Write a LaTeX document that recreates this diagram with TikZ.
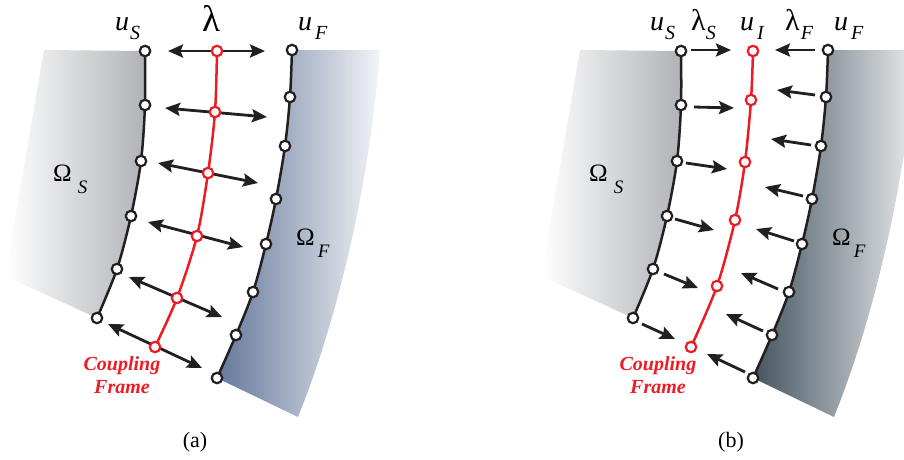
\documentclass[tikz,border=0pt]{standalone}
\usepackage{fontspec}
\setmainfont{Liberation Serif}
\usetikzlibrary{arrows.meta}
\definecolor{cfred}{RGB}{237,28,36}
\definecolor{sgray}{RGB}{176,178,182}
\definecolor{fblueA}{RGB}{100,120,154}
\definecolor{fblueB}{RGB}{68,84,96}
\definecolor{ink}{RGB}{35,31,32}
\newcommand{\sub}[2][0pt]{\kern#1\raisebox{-9pt}{\fontsize{20}{20}\selectfont\itshape #2}}
\newcommand{\osub}[2][4pt]{\kern#1\raisebox{-12pt}{\fontsize{19}{19}\selectfont\itshape #2}}
\begin{document}
\begin{tikzpicture}[x=1pt,y=-1pt,
 bnd/.style={line width=2.5pt, draw=ink},
 cfl/.style={line width=2.5pt, draw=cfred},
 bdot/.style={circle, draw=ink, fill=white, line width=2.2pt, inner sep=0pt, minimum size=10.5pt},
 rdot/.style={bdot, draw=cfred},
 tip/.tip={Stealth[length=15pt,width=13pt,inset=2.5pt]},
 dbl/.style={line width=2.8pt, draw=ink, {tip}-{tip}},
 sarr/.style={line width=2.8pt, draw=ink, -{tip}},
 lbl/.style={inner sep=0pt, anchor=base west, font=\fontsize{28}{28}\selectfont},
 lam/.style={inner sep=0pt, anchor=base west, font=\fontsize{37}{37}\selectfont},
 om/.style={inner sep=0pt, anchor=base west, font=\fontsize{25}{25}\selectfont},
 cf/.style={inner sep=0pt, anchor=base, text=cfred, font=\fontsize{20}{20}\selectfont\bfseries\itshape},
 captxt/.style={inner sep=0pt, anchor=base, font=\fontsize{22}{22}\selectfont},
]
\useasboundingbox (0,0) rectangle (904,459);

% ---------------- panel (a) ----------------
\coordinate (a1) at (145,51);  \coordinate (a2) at (145,105); \coordinate (a3) at (141,161);
\coordinate (a4) at (131,216); \coordinate (a5) at (117,269); \coordinate (a6) at (97,318);
\coordinate (af1) at (292,50); \coordinate (af2) at (290,97); \coordinate (af3) at (285,146);
\coordinate (af4) at (276,199); \coordinate (af5) at (266,244); \coordinate (af6) at (253,292);
\coordinate (af7) at (236,335); \coordinate (af8) at (217,378);
\coordinate (ar1) at (217,51);  \coordinate (ar2) at (215,112); \coordinate (ar3) at (208,173);
\coordinate (ar4) at (197,236); \coordinate (ar5) at (177,298); \coordinate (ar6) at (155,347);

\shade[left color=white, right color=sgray]
  (44,50) -- plot[smooth, tension=0.5] coordinates {(a1) (a2) (a3) (a4) (a5) (a6)} -- (5,276) -- cycle;
\shade[left color=fblueA, right color=white!92!fblueA]
  (380,50) .. controls (372,160) and (345,300) .. (298,417)
  -- plot[smooth, tension=0.5] coordinates {(af8) (af7) (af6) (af5) (af4) (af3) (af2) (af1)} -- cycle;

\draw[bnd] plot[smooth, tension=0.5] coordinates {(a1) (a2) (a3) (a4) (a5) (a6)};
\draw[bnd] plot[smooth, tension=0.5] coordinates {(af1) (af2) (af3) (af4) (af5) (af6) (af7) (af8)};
\draw[cfl] plot[smooth, tension=0.5] coordinates {(ar1) (ar2) (ar3) (ar4) (ar5) (ar6)};

\coordinate (da1) at (168,51);  \coordinate (db1) at (265,51);
\coordinate (da2) at (165,108); \coordinate (db2) at (267,117);
\coordinate (da3) at (158,163); \coordinate (db3) at (258,183);
\coordinate (da4) at (148,222); \coordinate (db4) at (243,247);
\coordinate (da5) at (129,277); \coordinate (db5) at (222,317);
\coordinate (da6) at (108,324); \coordinate (db6) at (202,368);
\foreach \i in {1,...,6} {\draw[dbl] (da\i) -- (db\i);}

\foreach \i in {1,...,6} {\node[bdot] (na\i) at (a\i) {};}
\foreach \i in {1,...,8} {\node[bdot] (naf\i) at (af\i) {};}
\foreach \i in {1,...,6} {\node[rdot] (nar\i) at (ar\i) {};}

\node[lbl] (lus) at (115,30) {\textit{u}\sub[1pt]{S}};
\node[lam] (llam) at (202,31) {λ};
\node[lbl] (luf) at (298,30) {\textit{u}\sub[3pt]{F}};
\node[om] (los) at (53,181) {Ω\osub[6pt]{S}};
\node[om] (lof) at (296,245) {Ω\osub[3pt]{F}};
\node[cf] (cfa1) at (122,370) {Coupling};
\node[cf] (cfa2) at (122,393) {Frame};
\node[captxt] (capa) at (195,447) {(a)};

% ---------------- panel (b) ----------------
\coordinate (b1) at (681,51);  \coordinate (b2) at (681,105); \coordinate (b3) at (677,161);
\coordinate (b4) at (667,216); \coordinate (b5) at (653,269); \coordinate (b6) at (633,318);
\coordinate (bf1) at (828,50); \coordinate (bf2) at (826,97); \coordinate (bf3) at (821,146);
\coordinate (bf4) at (812,199); \coordinate (bf5) at (802,244); \coordinate (bf6) at (789,292);
\coordinate (bf7) at (772,335); \coordinate (bf8) at (753,378);
\coordinate (br1) at (753,51);  \coordinate (br2) at (751,100); \coordinate (br3) at (745,162);
\coordinate (br4) at (735,220); \coordinate (br5) at (717,286); \coordinate (br6) at (691,347);

\shade[left color=white, right color=sgray]
  (580,50) -- plot[smooth, tension=0.5] coordinates {(b1) (b2) (b3) (b4) (b5) (b6)} -- (541,276) -- cycle;
\shade[left color=fblueB, right color=white!88!fblueB]
  (916,50) .. controls (908,160) and (881,300) .. (834,417)
  -- plot[smooth, tension=0.5] coordinates {(bf8) (bf7) (bf6) (bf5) (bf4) (bf3) (bf2) (bf1)} -- cycle;

\draw[bnd] plot[smooth, tension=0.5] coordinates {(b1) (b2) (b3) (b4) (b5) (b6)};
\draw[bnd] plot[smooth, tension=0.5] coordinates {(bf1) (bf2) (bf3) (bf4) (bf5) (bf6) (bf7) (bf8)};
\draw[cfl] plot[smooth, tension=0.5] coordinates {(br1) (br2) (br3) (br4) (br5) (br6)};

\coordinate (sa1) at (691,50);  \coordinate (sb1) at (731,50);
\coordinate (sa2) at (694,107); \coordinate (sb2) at (734,108);
\coordinate (sa3) at (686,163); \coordinate (sb3) at (727,169);
\coordinate (sa4) at (675,219); \coordinate (sb4) at (714,230);
\coordinate (sa5) at (664,274); \coordinate (sb5) at (698,288);
\coordinate (sa6) at (642,324); \coordinate (sb6) at (675,339);
\foreach \i in {1,...,6} {\draw[sarr] (sa\i) -- (sb\i);}

\coordinate (fa1) at (815,50);  \coordinate (fb1) at (775,50);
\coordinate (fa2) at (815,95);  \coordinate (fb2) at (777,90);
\coordinate (fa3) at (811,145); \coordinate (fb3) at (771,139);
\coordinate (fa4) at (803,196); \coordinate (fb4) at (765,187);
\coordinate (fa5) at (794,241); \coordinate (fb5) at (756,229);
\coordinate (fa6) at (778,289); \coordinate (fb6) at (741,273);
\coordinate (fa7) at (763,331); \coordinate (fb7) at (726,314);
\coordinate (fa8) at (745,372); \coordinate (fb8) at (707,354);
\foreach \i in {1,...,8} {\draw[sarr] (fa\i) -- (fb\i);}

\foreach \i in {1,...,6} {\node[bdot] (nb\i) at (b\i) {};}
\foreach \i in {1,...,8} {\node[bdot] (nbf\i) at (bf\i) {};}
\foreach \i in {1,...,6} {\node[rdot] (nbr\i) at (br\i) {};}

\node[lbl] (bus) at (650,30) {\textit{u}\sub[1pt]{S}};
\node[lbl] (blams) at (691,30) {\fontsize{30}{30}\selectfont λ\sub[0pt]{S}};
\node[lbl] (bui) at (740,30) {\textit{u}\sub[3pt]{I}};
\node[lbl] (blamf) at (785,30) {\fontsize{30}{30}\selectfont λ\sub[1pt]{F}};
\node[lbl] (buf) at (834,30) {\textit{u}\sub[3pt]{F}};
\node[om] (bos) at (589,181) {Ω\osub[6pt]{S}};
\node[om] (bof) at (832,245) {Ω\osub[3pt]{F}};
\node[cf] (cfb1) at (658,370) {Coupling};
\node[cf] (cfb2) at (658,393) {Frame};
\node[captxt] (capb) at (731,447) {(b)};
\end{tikzpicture}
\end{document}
